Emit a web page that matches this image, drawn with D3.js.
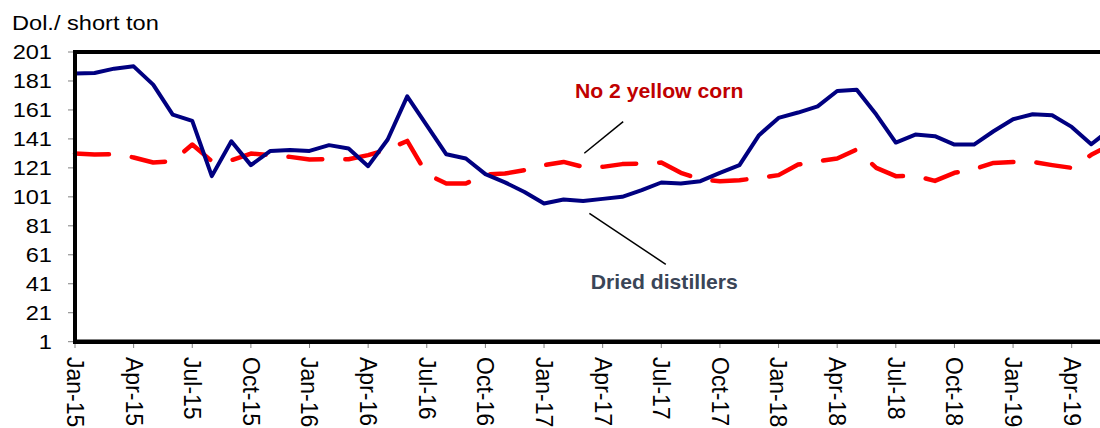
<!DOCTYPE html>
<html>
<head>
<meta charset="utf-8">
<script src="https://cdn.jsdelivr.net/npm/d3@7"></script>
<style>
  html, body { margin: 0; padding: 0; background: #fff; }
  svg { display: block; font-family: "Liberation Sans", Arial, sans-serif; }
</style>
</head>
<body>
<svg id="chart" width="1100" height="428"></svg>
<script>
// ---- data ----
const months = ["Jan-15","Feb-15","Mar-15","Apr-15","May-15","Jun-15","Jul-15","Aug-15","Sep-15","Oct-15","Nov-15","Dec-15",
  "Jan-16","Feb-16","Mar-16","Apr-16","May-16","Jun-16","Jul-16","Aug-16","Sep-16","Oct-16","Nov-16","Dec-16",
  "Jan-17","Feb-17","Mar-17","Apr-17","May-17","Jun-17","Jul-17","Aug-17","Sep-17","Oct-17","Nov-17","Dec-17",
  "Jan-18","Feb-18","Mar-18","Apr-18","May-18","Jun-18","Jul-18","Aug-18","Sep-18","Oct-18","Nov-18","Dec-18",
  "Jan-19","Feb-19","Mar-19","Apr-19","May-19","Jun-19"];
const distillers = [186.1,186.5,189.5,191.1,178.5,157.8,153.4,115.3,139.4,122.9,132.7,133.4,
  132.7,136.7,134.4,122.2,140.6,170.4,150.4,130.4,127.5,116.7,111.0,104.4,
  96.4,99.2,98.2,99.6,101.0,105.6,110.9,110.2,111.8,117.6,122.9,143.6,
  155.5,159.2,163.5,174.1,175.0,157.8,138.5,144.0,142.9,137.1,137.1,146.3,
  154.6,158.0,157.3,149.3,137.3,148.0];
const corn = [130.9,130.2,130.4,128.2,124.7,125.6,137.1,125.6,126.3,130.9,129.8,128.6,
  126.8,127.0,127.0,129.8,133.7,139.6,116.7,110.2,110.2,116.4,117.1,119.4,
  122.9,125.1,121.7,121.7,123.6,124.0,124.7,117.6,113.0,111.8,112.5,114.1,
  116.0,123.3,125.6,127.5,133.7,121.0,115.3,115.5,112.0,117.6,120.1,124.4,
  125.1,125.1,122.9,121.0,130.0,137.0];
const yTicks = [1,21,41,61,81,101,121,141,161,181,201];
const xTickEvery = 3;
const yTitle = "Dol./ short ton";
const cornLabel = "No 2 yellow corn";
const distLabel = "Dried distillers";

// ---- scales ----
const svg = d3.select("#chart");
const x = d3.scaleLinear().domain([0, 51]).range([75, 1071.7]);
const y = d3.scaleLinear().domain([1, 201]).range([341.7, 52]);
const xRight = x(months.length - 0.6);

// ---- plot frame ----
svg.append("line").attr("x1", x(0)).attr("x2", xRight).attr("y1", y(201)).attr("y2", y(201))
  .attr("stroke", "#000").attr("stroke-width", 4);

// y ticks
svg.append("g").selectAll("line").data(yTicks).join("line")
  .attr("x1", 68).attr("x2", 75).attr("y1", d => y(d)).attr("y2", d => y(d))
  .attr("stroke", "#808080").attr("stroke-width", 1);
svg.append("g").selectAll("text").data(yTicks).join("text")
  .attr("transform", d => `translate(52,${y(d)}) scale(1.18,1)`)
  .attr("text-anchor", "end").attr("dy", "0.35em")
  .attr("font-size", 20).attr("fill", "#000").text(d => d);

// x ticks
const xTickIdx = d3.range(0, months.length, xTickEvery);
svg.append("g").selectAll("line").data(xTickIdx).join("line")
  .attr("x1", d => x(d)).attr("x2", d => x(d)).attr("y1", 342).attr("y2", 348)
  .attr("stroke", "#808080").attr("stroke-width", 1);
svg.append("g").selectAll("text").data(xTickIdx).join("text")
  .attr("transform", d => `translate(${x(d)},357) rotate(90)`)
  .attr("text-anchor", "start").attr("dy", "0.35em")
  .attr("font-size", 23).attr("fill", "#000").text(d => months[d]);

// ---- series ----
const line = d3.line().x((d, i) => x(i)).y(d => y(d));
svg.append("path").datum(corn).attr("d", line)
  .attr("fill", "none").attr("stroke", "#ff0000").attr("stroke-width", 4.5)
  .attr("stroke-dasharray", "34,23").attr("stroke-linecap", "round").attr("stroke-linejoin", "round");
svg.append("path").datum(distillers).attr("d", line)
  .attr("fill", "none").attr("stroke", "#000080").attr("stroke-width", 4)
  .attr("stroke-linejoin", "round");

// axis lines (drawn over)
svg.append("line").attr("x1", x(0)).attr("x2", x(0)).attr("y1", y(201) - 2).attr("y2", y(1) + 2)
  .attr("stroke", "#000").attr("stroke-width", 4);
svg.append("line").attr("x1", x(0) - 2).attr("x2", xRight).attr("y1", y(1)).attr("y2", y(1))
  .attr("stroke", "#000").attr("stroke-width", 4.5);

// ---- annotations ----
svg.append("text").attr("x", 12).attr("y", 30.5)
  .attr("transform", "translate(12,0) scale(1.18,1) translate(-12,0)")
  .attr("font-size", 20).attr("fill", "#000").text(yTitle);

svg.append("text").attr("transform", `translate(575,97.7) scale(1.06,1)`)
  .attr("font-size", 20).attr("font-weight", "bold").attr("fill", "#c00000").text(cornLabel);
svg.append("line")
  .attr("x1", x(26.06)).attr("y1", y(131.1)).attr("x2", x(28.05)).attr("y2", y(152.9))
  .attr("stroke", "#000").attr("stroke-width", 1.5);

svg.append("text").attr("transform", `translate(590.7,289.3) scale(1.06,1)`)
  .attr("font-size", 20).attr("font-weight", "bold").attr("fill", "#3a4557").text(distLabel);
svg.append("line")
  .attr("x1", x(26.32)).attr("y1", y(89.6)).attr("x2", x(30.23)).attr("y2", y(54.4))
  .attr("stroke", "#000").attr("stroke-width", 1.5);
</script>
</body>
</html>
